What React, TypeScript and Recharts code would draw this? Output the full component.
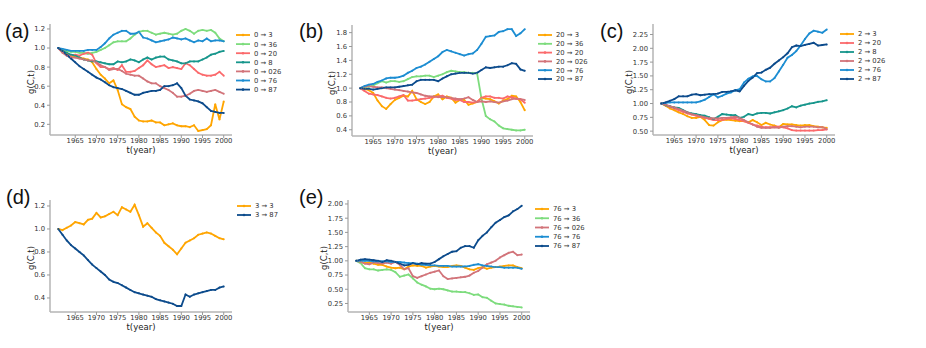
import { LineChart, Line, XAxis, YAxis } from 'recharts';

// years on the x axis (panels a and d start one year earlier)
const yearsLong = [
  1961, 1962, 1963, 1964, 1965, 1966, 1967, 1968, 1969, 1970,
  1971, 1972, 1973, 1974, 1975, 1976, 1977, 1978, 1979, 1980,
  1981, 1982, 1983, 1984, 1985, 1986, 1987, 1988, 1989, 1990,
  1991, 1992, 1993, 1994, 1995, 1996, 1997, 1998, 1999, 2000,
];
const yearsShort = [
  1962, 1963, 1964, 1965, 1966, 1967, 1968, 1969, 1970,
  1971, 1972, 1973, 1974, 1975, 1976, 1977, 1978, 1979, 1980,
  1981, 1982, 1983, 1984, 1985, 1986, 1987, 1988, 1989, 1990,
  1991, 1992, 1993, 1994, 1995, 1996, 1997, 1998, 1999, 2000,
];
const xTicks = [1965, 1970, 1975, 1980, 1985, 1990, 1995, 2000];

// (a) 1961-2000
const a_3 = [1.0, 0.97, 0.94, 0.92, 0.91, 0.9, 0.89, 0.88, 0.85, 0.78, 0.72, 0.68, 0.63, 0.66, 0.56, 0.41, 0.38, 0.36, 0.28, 0.24, 0.23, 0.23, 0.24, 0.22, 0.22, 0.19, 0.2, 0.21, 0.19, 0.18, 0.18, 0.17, 0.19, 0.13, 0.14, 0.15, 0.19, 0.41, 0.25, 0.44];
const a_36 = [1.0, 0.98, 0.97, 0.96, 0.96, 0.95, 0.95, 0.94, 0.95, 0.96, 0.98, 1.0, 1.03, 1.06, 1.07, 1.07, 1.07, 1.1, 1.14, 1.17, 1.18, 1.18, 1.16, 1.14, 1.15, 1.16, 1.15, 1.14, 1.15, 1.18, 1.2, 1.18, 1.15, 1.18, 1.19, 1.18, 1.19, 1.16, 1.1, 1.07];
const a_20 = [1.0, 0.96, 0.93, 0.92, 0.93, 0.92, 0.94, 0.95, 0.93, 0.84, 0.8, 0.8, 0.78, 0.79, 0.77, 0.82, 0.75, 0.75, 0.76, 0.79, 0.82, 0.87, 0.83, 0.8, 0.81, 0.82, 0.79, 0.8, 0.79, 0.78, 0.84, 0.82, 0.78, 0.74, 0.72, 0.71, 0.71, 0.72, 0.75, 0.71];
const a_8 = [1.0, 0.97, 0.95, 0.93, 0.92, 0.9, 0.88, 0.87, 0.86, 0.86, 0.85, 0.84, 0.83, 0.83, 0.86, 0.85, 0.86, 0.88, 0.87, 0.85, 0.88, 0.9, 0.88, 0.9, 0.91, 0.91, 0.88, 0.87, 0.86, 0.84, 0.84, 0.86, 0.86, 0.86, 0.88, 0.9, 0.93, 0.94, 0.96, 0.97];
const a_026 = [1.0, 0.95, 0.92, 0.9, 0.9, 0.89, 0.88, 0.87, 0.87, 0.85, 0.82, 0.8, 0.77, 0.78, 0.78, 0.76, 0.73, 0.72, 0.71, 0.71, 0.68, 0.65, 0.63, 0.63, 0.6, 0.58, 0.56, 0.53, 0.49, 0.49, 0.5, 0.52, 0.55, 0.56, 0.55, 0.54, 0.55, 0.56, 0.54, 0.52];
const a_76 = [1.0, 0.99, 0.98, 0.97, 0.97, 0.97, 0.97, 0.98, 0.98, 0.98, 1.01, 1.05, 1.1, 1.14, 1.16, 1.18, 1.18, 1.15, 1.15, 1.17, 1.11, 1.1, 1.08, 1.06, 1.07, 1.08, 1.09, 1.11, 1.1, 1.09, 1.1, 1.08, 1.06, 1.08, 1.07, 1.1, 1.07, 1.08, 1.08, 1.07];
const a_87 = [1.0, 0.97, 0.93, 0.89, 0.85, 0.81, 0.78, 0.75, 0.72, 0.69, 0.67, 0.64, 0.61, 0.59, 0.58, 0.57, 0.55, 0.53, 0.51, 0.51, 0.53, 0.54, 0.55, 0.55, 0.56, 0.6, 0.6, 0.61, 0.63, 0.58, 0.5, 0.46, 0.45, 0.44, 0.42, 0.38, 0.34, 0.33, 0.32, 0.32];

// (b) 1962-2000
const b_3 = [1.0, 0.99, 0.97, 0.93, 0.82, 0.74, 0.7, 0.77, 0.83, 0.86, 0.89, 0.88, 0.96, 0.84, 0.8, 0.77, 0.8, 0.88, 0.91, 0.84, 0.88, 0.86, 0.79, 0.83, 0.83, 0.76, 0.78, 0.8, 0.86, 0.85, 0.84, 0.81, 0.78, 0.82, 0.84, 0.89, 0.88, 0.8, 0.68];
const b_36 = [1.0, 1.01, 1.02, 1.04, 1.07, 1.1, 1.08, 1.1, 1.1, 1.09, 1.1, 1.13, 1.16, 1.17, 1.17, 1.18, 1.18, 1.16, 1.18, 1.2, 1.23, 1.25, 1.24, 1.23, 1.23, 1.22, 1.22, 1.21, 0.85, 0.6, 0.55, 0.52, 0.46, 0.42, 0.41, 0.4, 0.39, 0.39, 0.4];
const b_20 = [1.0, 0.96, 0.92, 0.91, 0.9, 0.88, 0.86, 0.85, 0.86, 0.88, 0.9, 0.82, 0.82, 0.83, 0.84, 0.85, 0.86, 0.87, 0.88, 0.89, 0.86, 0.85, 0.83, 0.83, 0.8, 0.8, 0.79, 0.8, 0.86, 0.88, 0.88, 0.86, 0.86, 0.85, 0.88, 0.87, 0.85, 0.84, 0.79];
const b_026 = [1.0, 1.02, 1.03, 1.02, 1.01, 1.01, 1.0, 0.99, 0.98, 0.97, 0.96, 0.95, 0.94, 0.93, 0.91, 0.89, 0.88, 0.88, 0.87, 0.87, 0.87, 0.86, 0.85, 0.84, 0.85, 0.87, 0.83, 0.8, 0.81, 0.8, 0.81, 0.8, 0.79, 0.81, 0.82, 0.84, 0.85, 0.84, 0.83];
const b_76 = [1.0, 1.03, 1.05, 1.06, 1.09, 1.11, 1.14, 1.15, 1.15, 1.16, 1.18, 1.22, 1.25, 1.29, 1.31, 1.34, 1.38, 1.42, 1.46, 1.52, 1.55, 1.53, 1.51, 1.49, 1.47, 1.49, 1.5, 1.55, 1.64, 1.74, 1.75, 1.76, 1.81, 1.82, 1.85, 1.85, 1.75, 1.79, 1.85];
const b_87 = [1.0, 0.99, 0.99, 0.98, 0.99, 1.0, 1.01, 1.01, 1.01, 1.02, 1.03, 1.04, 1.05, 1.1, 1.12, 1.12, 1.12, 1.12, 1.1, 1.14, 1.17, 1.2, 1.21, 1.22, 1.22, 1.22, 1.21, 1.22, 1.26, 1.3, 1.29, 1.3, 1.31, 1.31, 1.33, 1.36, 1.35, 1.27, 1.25];

// (c) 1962-2000
const c_3 = [1.0, 0.96, 0.91, 0.88, 0.84, 0.81, 0.77, 0.74, 0.74, 0.76, 0.7, 0.61, 0.6, 0.66, 0.7, 0.71, 0.7, 0.69, 0.68, 0.68, 0.66, 0.7, 0.66, 0.61, 0.65, 0.62, 0.6, 0.57, 0.63, 0.62, 0.62, 0.61, 0.6, 0.61, 0.61, 0.59, 0.58, 0.57, 0.56];
const c_20 = [1.0, 0.97, 0.94, 0.91, 0.88, 0.85, 0.82, 0.8, 0.78, 0.76, 0.74, 0.72, 0.7, 0.7, 0.7, 0.72, 0.73, 0.72, 0.7, 0.68, 0.65, 0.62, 0.6, 0.58, 0.57, 0.57, 0.58, 0.58, 0.57, 0.55, 0.52, 0.51, 0.51, 0.51, 0.51, 0.51, 0.52, 0.52, 0.53];
const c_8 = [1.0, 0.97, 0.95, 0.93, 0.92, 0.88, 0.84, 0.82, 0.81, 0.79, 0.78, 0.75, 0.72, 0.76, 0.81, 0.8, 0.79, 0.79, 0.74, 0.76, 0.81, 0.79, 0.82, 0.83, 0.83, 0.82, 0.84, 0.86, 0.88, 0.91, 0.95, 0.93, 0.96, 0.98, 1.0, 1.01, 1.03, 1.04, 1.06];
const c_026 = [1.0, 0.98, 0.95, 0.93, 0.9, 0.87, 0.84, 0.81, 0.79, 0.77, 0.75, 0.74, 0.73, 0.73, 0.74, 0.74, 0.75, 0.76, 0.74, 0.7, 0.66, 0.62, 0.58, 0.56, 0.56, 0.56, 0.57, 0.56, 0.58, 0.59, 0.59, 0.58, 0.57, 0.58, 0.58, 0.58, 0.57, 0.57, 0.54];
const c_76 = [1.0, 1.01, 1.02, 1.02, 1.02, 1.02, 1.02, 1.02, 1.02, 1.04, 1.07, 1.12, 1.17, 1.11, 1.14, 1.18, 1.2, 1.24, 1.26, 1.38, 1.45, 1.49, 1.5, 1.44, 1.4, 1.4, 1.46, 1.58, 1.7, 1.83, 1.88, 1.95, 2.05, 2.17, 2.27, 2.32, 2.3, 2.28, 2.34];
const c_87 = [1.0, 1.02, 1.05, 1.08, 1.13, 1.13, 1.13, 1.16, 1.17, 1.15, 1.16, 1.17, 1.17, 1.18, 1.21, 1.21, 1.22, 1.24, 1.22, 1.32, 1.41, 1.47, 1.55, 1.56, 1.61, 1.65, 1.72, 1.78, 1.84, 1.91, 2.02, 2.05, 2.04, 2.06, 2.08, 2.1, 2.05, 2.06, 2.07];

// (d) 1961-2000
const d_3 = [1.0, 0.99, 1.01, 1.03, 1.06, 1.05, 1.04, 1.08, 1.09, 1.14, 1.1, 1.11, 1.13, 1.15, 1.12, 1.19, 1.17, 1.15, 1.21, 1.12, 1.02, 1.05, 1.01, 0.97, 0.94, 0.88, 0.85, 0.82, 0.78, 0.83, 0.88, 0.9, 0.92, 0.95, 0.96, 0.97, 0.96, 0.94, 0.92, 0.91];
const d_87 = [1.0, 0.95, 0.9, 0.86, 0.83, 0.8, 0.77, 0.73, 0.69, 0.66, 0.63, 0.6, 0.56, 0.54, 0.53, 0.51, 0.49, 0.47, 0.45, 0.44, 0.43, 0.42, 0.41, 0.39, 0.38, 0.37, 0.36, 0.35, 0.33, 0.33, 0.43, 0.41, 0.43, 0.44, 0.45, 0.46, 0.47, 0.47, 0.49, 0.5];

// (e) 1962-2000
const e_3 = [1.0, 0.98, 0.96, 0.97, 0.95, 0.93, 0.93, 0.9, 0.88, 0.87, 0.88, 0.85, 0.9, 0.92, 0.91, 0.91, 0.88, 0.9, 0.91, 0.9, 0.89, 0.89, 0.91, 0.92, 0.91, 0.88, 0.85, 0.84, 0.87, 0.89, 0.86, 0.88, 0.89, 0.9, 0.91, 0.92, 0.92, 0.89, 0.87];
const e_36 = [1.0, 0.96, 0.87, 0.85, 0.85, 0.83, 0.84, 0.85, 0.84, 0.8, 0.72, 0.74, 0.76, 0.69, 0.62, 0.58, 0.55, 0.51, 0.5, 0.51, 0.5, 0.48, 0.46, 0.46, 0.45, 0.45, 0.43, 0.4, 0.41, 0.36, 0.35, 0.3, 0.25, 0.24, 0.23, 0.21, 0.2, 0.19, 0.18];
const e_026 = [1.0, 0.98, 0.95, 0.94, 0.97, 0.96, 0.95, 0.97, 0.95, 0.98, 0.93, 0.85, 0.87, 0.73, 0.7, 0.73, 0.76, 0.79, 0.81, 0.83, 0.73, 0.68, 0.69, 0.7, 0.71, 0.72, 0.74, 0.79, 0.82, 0.88, 0.94, 0.97, 1.0, 1.06, 1.1, 1.14, 1.16, 1.1, 1.11];
const e_76 = [1.0, 1.0, 1.0, 1.0, 0.99, 0.99, 0.99, 0.99, 0.98, 0.98, 0.98, 0.97, 0.96, 0.96, 0.95, 0.93, 0.93, 0.92, 0.92, 0.91, 0.91, 0.91, 0.9, 0.9, 0.9, 0.9, 0.91, 0.93, 0.94, 0.92, 0.91, 0.9, 0.89, 0.89, 0.88, 0.88, 0.88, 0.88, 0.86];
const e_87 = [1.0, 1.02, 1.03, 1.02, 1.01, 1.0, 0.98, 1.01, 1.0, 0.98, 0.95, 0.92, 0.93, 0.96, 0.94, 0.96, 0.95, 0.95, 0.98, 1.03, 1.08, 1.12, 1.16, 1.17, 1.23, 1.26, 1.26, 1.23, 1.36, 1.44, 1.5, 1.59, 1.67, 1.72, 1.77, 1.8, 1.87, 1.91, 1.97];

const ORANGE = '#ffa500';
const GREEN = '#7ddc7d';
const RED = '#fb6a6c';
const TEAL = '#17968c';
const ROSE = '#d2747a';
const BLUE = '#1c8dd2';
const NAVY = '#0c4b8c';

const ARROW = '\u2192';

type Series = { name: string; values: number[]; color: string };

const YW = 40;
const TOP = 4;
const RIGHT = 4;
const XH = 20;
const FONT = '"DejaVu Sans", sans-serif';

function Panel(props: {
  label: string; labelX: number; labelY: number; x: number; y: number; w: number; h: number;
  years: number[]; series: Series[]; xDomain: [number, number];
  yDomain: [number, number]; yTicks: number[]; digits: number;
  legendX: number; legendY: number; legendStep: number; yLabelX: number;
}) {
  const { label, labelX, labelY, x, y, w, h, years, series, xDomain, yDomain, yTicks, digits, legendX, legendY, legendStep, yLabelX } = props;
  const data = years.map((yr, i) => {
    const row: Record<string, number> = { year: yr };
    series.forEach((s, j) => { row['s' + j] = s.values[i]; });
    return row;
  });
  return (
    <>
      <div style={{ position: 'absolute', left: x - YW, top: y - TOP }}>
        <LineChart width={YW + w + RIGHT} height={TOP + h + XH} data={data}
          margin={{ top: TOP, right: RIGHT, left: 0, bottom: 0 }}>
          <XAxis dataKey="year" type="number" domain={xDomain} ticks={xTicks} allowDataOverflow
            height={XH} tickSize={3} tickMargin={0} interval={0}
            axisLine={{ stroke: '#b4b4b4', strokeWidth: 1.5 }} tickLine={{ stroke: '#999' }}
            tick={{ fontSize: 6.8, fill: '#333', fontFamily: FONT }} />
          <YAxis type="number" domain={yDomain} ticks={yTicks} allowDataOverflow width={YW}
            tickSize={3} tickMargin={2} interval={0}
            tickFormatter={(v: number) => v.toFixed(digits)}
            axisLine={{ stroke: '#b4b4b4', strokeWidth: 1.5 }} tickLine={{ stroke: '#999' }}
            tick={{ fontSize: 6.8, fill: '#333', fontFamily: FONT }} />
          {series.map((s, j) => (
            <Line key={s.name} dataKey={'s' + j} stroke={s.color} strokeWidth={1.8}
              dot={{ r: 1, fill: s.color, stroke: s.color, strokeWidth: 0 }}
              activeDot={false} isAnimationActive={false} />
          ))}
        </LineChart>
      </div>
      <div style={{ position: 'absolute', left: labelX, top: labelY,
        fontFamily: '"Liberation Sans", sans-serif', fontSize: 20, lineHeight: '22px', color: '#111' }}>
        {label}
      </div>
      <div style={{ position: 'absolute', left: x + w / 2 - 30, width: 60, top: y + h + 10, textAlign: 'center',
        fontFamily: FONT, fontSize: 8.5, color: '#222' }}>
        t(year)
      </div>
      <div style={{ position: 'absolute', left: yLabelX - 30, width: 60, top: y + h / 2 - 3, textAlign: 'center',
        transform: 'rotate(-90deg)', fontFamily: FONT, fontSize: 8.5, lineHeight: '10px', color: '#222' }}>
        g(C,t)
      </div>
      <svg style={{ position: 'absolute', left: legendX, top: legendY - 5 }} width={70} height={legendStep * series.length + 6}>
        {series.map((s, j) => {
          const cy = 5 + j * legendStep;
          return (
            <g key={s.name}>
              <line x1={0} x2={14} y1={cy} y2={cy} stroke={s.color} strokeWidth={1.8} />
              <circle cx={7} cy={cy} r={1.3} fill={s.color} />
              <text x={18} y={cy + 2.4} fontSize={6.8} fill="#333" fontFamily={FONT}>{s.name}</text>
            </g>
          );
        })}
      </svg>
    </>
  );
}

export default function App() {
  const longDomain: [number, number] = [1959.05, 2001.95];
  const shortDomain: [number, number] = [1960.1, 2001.9];
  return (
    <div style={{ position: 'absolute', left: 0, top: 0, width: 926, height: 348, background: '#fff', overflow: 'hidden' }}>
      <Panel label="(a)" labelX={5} labelY={20} x={50} y={24} w={182} h={111} years={yearsLong} xDomain={longDomain}
        yDomain={[0.088, 1.252]} yTicks={[0.2, 0.4, 0.6, 0.8, 1.0, 1.2]} digits={1}
        legendX={236} legendY={35} legendStep={9.1} yLabelX={31}
        series={[
          { name: `0 ${ARROW} 3`, values: a_3, color: ORANGE },
          { name: `0 ${ARROW} 36`, values: a_36, color: GREEN },
          { name: `0 ${ARROW} 20`, values: a_20, color: RED },
          { name: `0 ${ARROW} 8`, values: a_8, color: TEAL },
          { name: `0 ${ARROW} 026`, values: a_026, color: ROSE },
          { name: `0 ${ARROW} 76`, values: a_76, color: BLUE },
          { name: `0 ${ARROW} 87`, values: a_87, color: NAVY },
        ]} />
      <Panel label="(b)" labelX={299} labelY={20} x={352} y={25} w={181} h={111} years={yearsShort} xDomain={shortDomain}
        yDomain={[0.31, 1.91]} yTicks={[0.4, 0.6, 0.8, 1.0, 1.2, 1.4, 1.6, 1.8]} digits={1}
        legendX={538} legendY={35} legendStep={8.8} yLabelX={332}
        series={[
          { name: `20 ${ARROW} 3`, values: b_3, color: ORANGE },
          { name: `20 ${ARROW} 36`, values: b_36, color: GREEN },
          { name: `20 ${ARROW} 20`, values: b_20, color: RED },
          { name: `20 ${ARROW} 026`, values: b_026, color: ROSE },
          { name: `20 ${ARROW} 76`, values: b_76, color: BLUE },
          { name: `20 ${ARROW} 87`, values: b_87, color: NAVY },
        ]} />
      <Panel label="(c)" labelX={600} labelY={20} x={653} y={24} w={182} h={111} years={yearsShort} xDomain={shortDomain}
        yDomain={[0.43, 2.44]} yTicks={[0.5, 0.75, 1.0, 1.25, 1.5, 1.75, 2.0, 2.25]} digits={2}
        legendX={840} legendY={34} legendStep={9} yLabelX={629}
        series={[
          { name: `2 ${ARROW} 3`, values: c_3, color: ORANGE },
          { name: `2 ${ARROW} 20`, values: c_20, color: RED },
          { name: `2 ${ARROW} 8`, values: c_8, color: TEAL },
          { name: `2 ${ARROW} 026`, values: c_026, color: ROSE },
          { name: `2 ${ARROW} 76`, values: c_76, color: BLUE },
          { name: `2 ${ARROW} 87`, values: c_87, color: NAVY },
        ]} />
      <Panel label="(d)" labelX={6} labelY={186} x={50} y={200} w={182} h={112} years={yearsLong} xDomain={longDomain}
        yDomain={[0.278, 1.252]} yTicks={[0.4, 0.6, 0.8, 1.0, 1.2]} digits={1}
        legendX={237} legendY={206} legendStep={9} yLabelX={31}
        series={[
          { name: `3 ${ARROW} 3`, values: d_3, color: ORANGE },
          { name: `3 ${ARROW} 87`, values: d_87, color: NAVY },
        ]} />
      <Panel label="(e)" labelX={299} labelY={186} x={348} y={200} w={182} h={112} years={yearsShort} xDomain={shortDomain}
        yDomain={[0.1, 2.07]} yTicks={[0.25, 0.5, 0.75, 1.0, 1.25, 1.5, 1.75, 2.0]} digits={2}
        legendX={535} legendY={209} legendStep={9.25} yLabelX={324}
        series={[
          { name: `76 ${ARROW} 3`, values: e_3, color: ORANGE },
          { name: `76 ${ARROW} 36`, values: e_36, color: GREEN },
          { name: `76 ${ARROW} 026`, values: e_026, color: ROSE },
          { name: `76 ${ARROW} 76`, values: e_76, color: BLUE },
          { name: `76 ${ARROW} 87`, values: e_87, color: NAVY },
        ]} />
    </div>
  );
}
